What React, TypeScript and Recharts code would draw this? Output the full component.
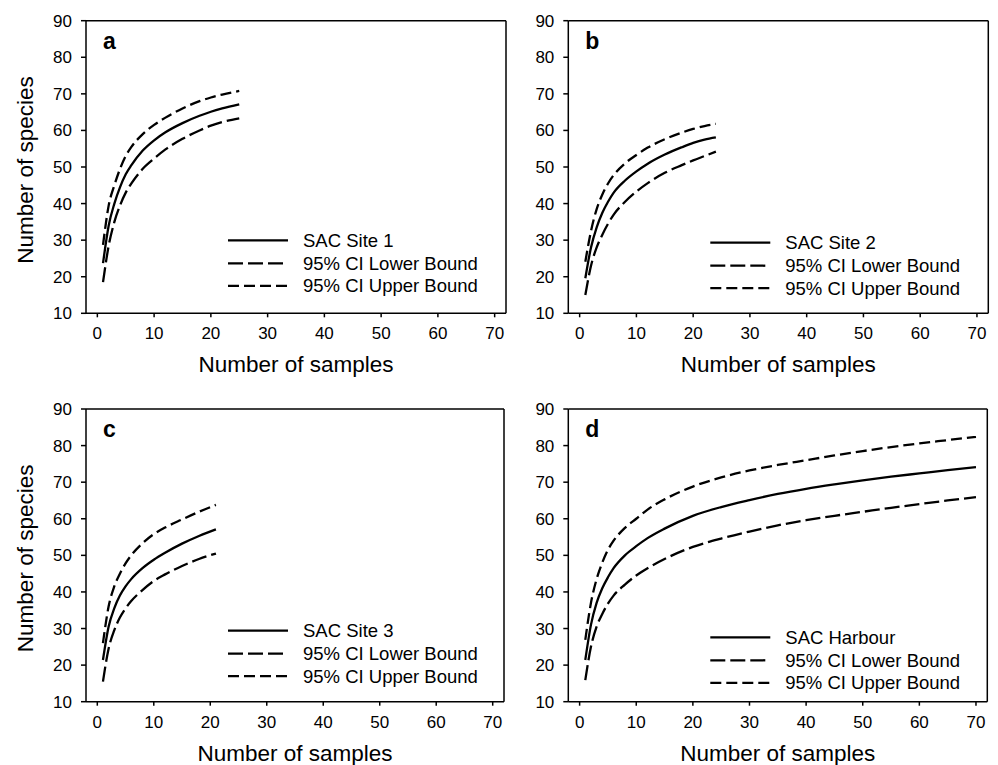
import React from 'react';
import { LineChart, Line, XAxis, YAxis, ReferenceLine } from 'recharts';

// ---------- data ----------
const samplesSite1 = [1, 2, 3, 4, 5, 6, 8, 10, 12, 15, 18, 20, 22, 25];
const sacSite1 = [23.7, 34, 40, 44.5, 48, 50.5, 54.5, 57.3, 59.5, 62, 64, 65.1, 66, 67.1];
const lowerSite1 = [18.5, 28.5, 35, 39.5, 43, 45.5, 49.5, 52.3, 54.8, 57.7, 60, 61.3, 62.3, 63.3];
const upperSite1 = [28.7, 39.5, 45, 49.5, 53, 55.5, 59, 61.5, 63.5, 66, 68, 69, 69.8, 70.8];

const samplesSite2 = [1, 2, 3, 4, 5, 6, 8, 10, 12, 15, 18, 20, 22, 24];
const sacSite2 = [19.6, 28, 33.5, 37.5, 40.5, 43, 46.3, 48.8, 50.9, 53.4, 55.4, 56.6, 57.5, 58.1];
const lowerSite2 = [15, 23, 28, 31.5, 34.5, 37, 40.5, 43.3, 45.6, 48.4, 50.5, 51.8, 53, 54.2];
const upperSite2 = [24.1, 32.5, 38.5, 42.5, 45.5, 47.8, 51, 53.3, 55.3, 57.6, 59.4, 60.4, 61.2, 61.8];

const samplesSite3 = [1, 2, 3, 4, 5, 6, 8, 10, 12, 15, 18, 21];
const sacSite3 = [21.4, 30.5, 35.5, 39, 41.5, 43.5, 46.5, 48.8, 50.7, 53.2, 55.3, 57.1];
const lowerSite3 = [15.5, 24.5, 29.5, 33, 35.5, 37.5, 40.5, 43, 44.8, 47.1, 49, 50.5];
const upperSite3 = [26, 36, 41.5, 45, 47.8, 50, 53.3, 55.8, 57.6, 59.8, 61.9, 63.8];

const samplesHarbour = [1, 2, 3, 4, 5, 6, 8, 10, 12, 15, 20, 25, 30, 35, 40, 45, 50, 55, 60, 65, 70];
const sacHarbour = [21.4, 31, 37, 41, 44, 46.5, 50, 52.5, 54.7, 57.3, 60.8, 63.2, 65.1, 66.8, 68.2, 69.4, 70.5, 71.5, 72.4, 73.3, 74.1];
const lowerHarbour = [15.9, 25, 30.5, 34, 36.8, 39, 42, 44.5, 46.5, 49, 52.3, 54.6, 56.5, 58.2, 59.6, 60.8, 61.9, 63, 64, 65, 65.9];
const upperHarbour = [26.9, 37, 43.5, 48, 51.5, 54, 57.5, 60, 62.5, 65.3, 68.8, 71.3, 73.2, 74.7, 76, 77.3, 78.5, 79.6, 80.6, 81.5, 82.4];

const xTicks = [0, 10, 20, 30, 40, 50, 60, 70];
const yTicks = [10, 20, 30, 40, 50, 60, 70, 80, 90];
const xDomain = [-2, 72];
const yDomain = [10, 90];

const legendLowerLabel = '95% CI Lower Bound';
const legendUpperLabel = '95% CI Upper Bound';

// ---------- styling ----------
const FONT = '"Liberation Sans", Arial, Helvetica, sans-serif';
const LOWER_DASH = '15 5';
const UPPER_DASH = '11 5';
const LINE_W = 2.3;
const AXIS_W = 1.5;

function buildRows(n: number[], sac: number[], lo: number[], up: number[]) {
  return n.map((v, i) => ({ n: v, sac: sac[i], lower: lo[i], upper: up[i] }));
}

type PanelProps = {
  left: number;
  top: number;
  width: number;
  height: number;
  plotLeft: number;
  plotTop: number;
  plotRight: number;
  plotBottom: number;
  data: any[];
  letter: string;
  seriesName: string;
  showYTitle: boolean;
  legendOffset: number;
};

function Panel(p: PanelProps) {
  const yAxisWidth = 60;
  const xAxisHeight = 60;
  const margin = {
    top: p.plotTop,
    left: p.plotLeft - yAxisWidth,
    right: p.width - p.plotRight,
    bottom: p.height - p.plotBottom - xAxisHeight,
  };
  const plotCy = (p.plotTop + p.plotBottom) / 2;
  const plotCx = (p.plotLeft + p.plotRight) / 2;
  const lx0 = p.plotLeft + 142;
  const lx1 = p.plotLeft + 202;
  const tx = p.plotLeft + 217;
  const r0 = p.plotBottom - p.legendOffset;
  const rows = [
    { y: r0, dash: undefined as string | undefined, label: p.seriesName },
    { y: r0 + 23, dash: LOWER_DASH, label: legendLowerLabel },
    { y: r0 + 45.5, dash: UPPER_DASH, label: legendUpperLabel },
  ];
  return (
    <div style={{ position: 'absolute', left: p.left, top: p.top, width: p.width, height: p.height }}>
      <LineChart width={p.width} height={p.height} data={p.data} margin={margin}>
        <XAxis
          type="number"
          dataKey="n"
          domain={xDomain}
          ticks={xTicks}
          allowDataOverflow
          height={xAxisHeight}
          tickSize={4}
          tickMargin={10}
          stroke="#000"
          strokeWidth={AXIS_W}
          tick={{ fill: '#000', fontSize: 17, fontFamily: FONT }}
          label={{
            content: () => (
              <text
                x={plotCx}
                y={p.plotBottom + 59}
                textAnchor="middle"
                fontSize={22.5}
                fontFamily={FONT}
                fill="#000"
              >
                Number of samples
              </text>
            ),
          }}
        />
        <YAxis
          type="number"
          domain={yDomain}
          ticks={yTicks}
          allowDataOverflow
          width={yAxisWidth}
          tickSize={5}
          tickMargin={9}
          stroke="#000"
          strokeWidth={AXIS_W}
          tick={{ fill: '#000', fontSize: 17, fontFamily: FONT }}
          label={
            p.showYTitle
              ? {
                  content: () => (
                    <text
                      x={33}
                      y={plotCy + 3}
                      transform={`rotate(-90 33 ${plotCy + 3})`}
                      textAnchor="middle"
                      fontSize={22.5}
                      fontFamily={FONT}
                      fill="#000"
                    >
                      Number of species
                    </text>
                  ),
                }
              : undefined
          }
        />
        <ReferenceLine y={90} stroke="#000" strokeWidth={AXIS_W} />
        <ReferenceLine x={72} stroke="#000" strokeWidth={AXIS_W} />
        <Line
          type="monotone"
          dataKey="upper"
          stroke="#000"
          strokeWidth={LINE_W}
          strokeDasharray={UPPER_DASH}
          dot={false}
          activeDot={false}
          isAnimationActive={false}
        />
        <Line
          type="monotone"
          dataKey="lower"
          stroke="#000"
          strokeWidth={LINE_W}
          strokeDasharray={LOWER_DASH}
          dot={false}
          activeDot={false}
          isAnimationActive={false}
        />
        <Line
          type="monotone"
          dataKey="sac"
          stroke="#000"
          strokeWidth={LINE_W}
          dot={false}
          activeDot={false}
          isAnimationActive={false}
        />
      </LineChart>
      <svg
        width={p.width}
        height={p.height}
        style={{ position: 'absolute', left: 0, top: 0, pointerEvents: 'none' }}
      >
        <text
          x={p.plotLeft + 17}
          y={p.plotTop + 28}
          fontSize={23}
          fontWeight="bold"
          fontFamily={FONT}
          fill="#000"
        >
          {p.letter}
        </text>
        {rows.map((r, i) => (
          <g key={i}>
            <line
              x1={lx0}
              x2={lx1}
              y1={r.y}
              y2={r.y}
              stroke="#000"
              strokeWidth={LINE_W}
              strokeDasharray={r.dash}
            />
            <text x={tx} y={r.y + 6.5} fontSize={18.5} fontFamily={FONT} fill="#000">
              {r.label}
            </text>
          </g>
        ))}
      </svg>
    </div>
  );
}

export default function App() {
  const dataA = buildRows(samplesSite1, sacSite1, lowerSite1, upperSite1);
  const dataB = buildRows(samplesSite2, sacSite2, lowerSite2, upperSite2);
  const dataC = buildRows(samplesSite3, sacSite3, lowerSite3, upperSite3);
  const dataD = buildRows(samplesHarbour, sacHarbour, lowerHarbour, upperHarbour);
  return (
    <div
      style={{
        position: 'absolute',
        left: 0,
        top: 0,
        width: 998,
        height: 765,
        overflow: 'hidden',
        background: '#fff',
      }}
    >
      <Panel
        left={0}
        top={0}
        width={510}
        height={385}
        plotLeft={86}
        plotTop={20.7}
        plotRight={506}
        plotBottom={313.3}
        data={dataA}
        letter="a"
        seriesName="SAC Site 1"
        showYTitle
        legendOffset={73}
      />
      <Panel
        left={488}
        top={0}
        width={510}
        height={385}
        plotLeft={80.3}
        plotTop={20.7}
        plotRight={500.3}
        plotBottom={313.3}
        data={dataB}
        letter="b"
        seriesName="SAC Site 2"
        showYTitle={false}
        legendOffset={70.6}
      />
      <Panel
        left={0}
        top={388}
        width={510}
        height={377}
        plotLeft={86}
        plotTop={21}
        plotRight={504}
        plotBottom={313.7}
        data={dataC}
        letter="c"
        seriesName="SAC Site 3"
        showYTitle
        legendOffset={71}
      />
      <Panel
        left={488}
        top={388}
        width={510}
        height={377}
        plotLeft={80.3}
        plotTop={21}
        plotRight={499.3}
        plotBottom={313.7}
        data={dataD}
        letter="d"
        seriesName="SAC Harbour"
        showYTitle={false}
        legendOffset={64.4}
      />
    </div>
  );
}
